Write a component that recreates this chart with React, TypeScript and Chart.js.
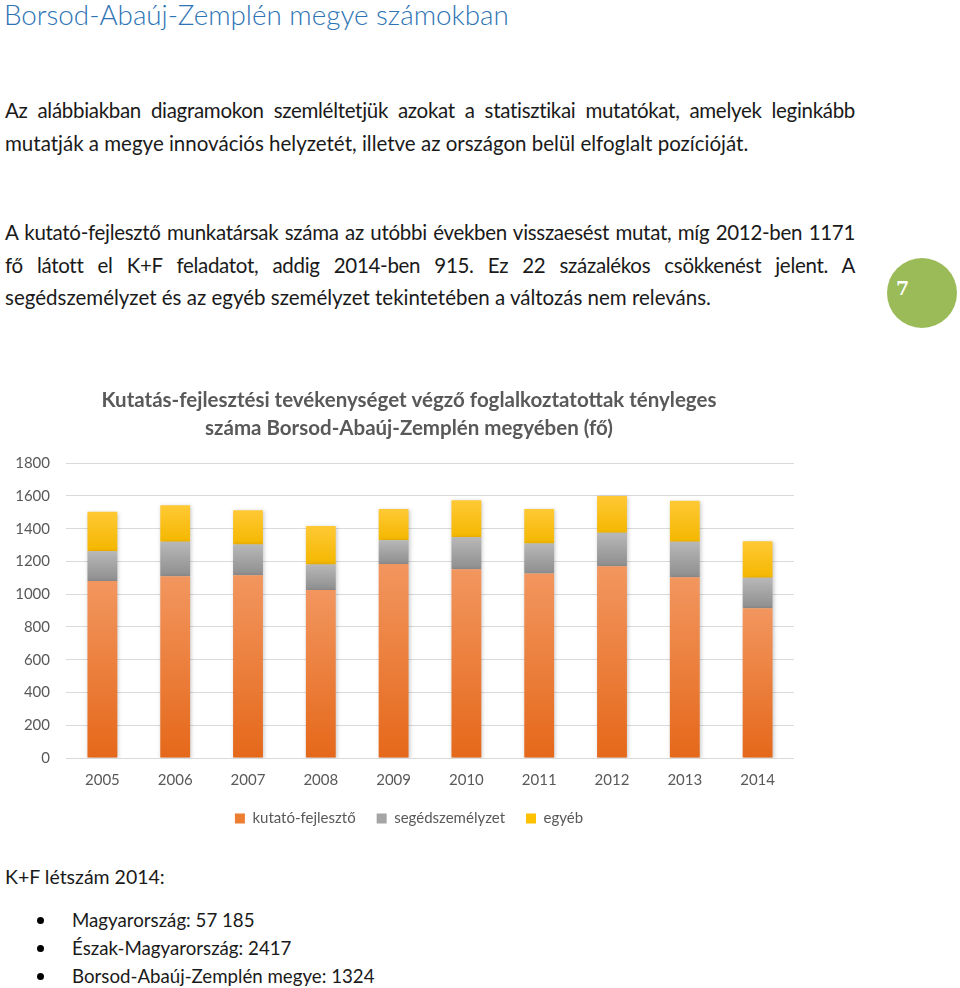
import React, { useEffect, useRef } from "react";
import { Chart, registerables } from "chart.js";

Chart.register(...registerables);

const years = ["2005", "2006", "2007", "2008", "2009", "2010", "2011", "2012", "2013", "2014"];
const kutatoFejleszto = [1080, 1110, 1116, 1026, 1185, 1153, 1126, 1171, 1104, 915];
const segedszemelyzet = [183, 210, 188, 156, 145, 194, 184, 204, 216, 185];
const egyeb = [241, 223, 208, 234, 190, 226, 210, 225, 251, 224];
const seriesNames = ["kutató-fejlesztő", "segédszemélyzet", "egyéb"];
const yTicks = [0, 200, 400, 600, 800, 1000, 1200, 1400, 1600, 1800];

const solidColors = ["#ED7D31", "#A5A5A5", "#FFC000"];
const gradientStops: [string, string][] = [
  ["#F2965F", "#E5681A"],
  ["#B8B8B8", "#8E8E8E"],
  ["#FFC935", "#F4B700"],
];

const allSeries = [kutatoFejleszto, segedszemelyzet, egyeb];

function makeGradient(dsIndex: number) {
  return (ctx: any) => {
    const chart = ctx.chart;
    const y = chart.scales && chart.scales.y;
    if (!chart.chartArea || !y || ctx.type !== "data") return solidColors[dsIndex];
    const i = ctx.dataIndex;
    let start = 0;
    for (let d = 0; d < dsIndex; d++) start += allSeries[d][i];
    const end = start + allSeries[dsIndex][i];
    const y0 = y.getPixelForValue(start);
    const y1 = y.getPixelForValue(end);
    if (!isFinite(y0) || !isFinite(y1) || y0 === y1) return solidColors[dsIndex];
    const g = chart.ctx.createLinearGradient(0, y1, 0, y0);
    g.addColorStop(0, gradientStops[dsIndex][0]);
    g.addColorStop(1, gradientStops[dsIndex][1]);
    return g;
  };
}

const shadowPlugin = {
  id: "barShadow",
  beforeDatasetsDraw(chart: any) {
    const c = chart.ctx;
    c.save();
    c.shadowColor = "rgba(0,0,0,0.22)";
    c.shadowBlur = 4;
    c.shadowOffsetX = 1;
    c.shadowOffsetY = 1;
  },
  afterDatasetsDraw(chart: any) {
    chart.ctx.restore();
  },
};

const FONT = "Lato, 'Open Sans', sans-serif";

function BarChart() {
  const ref = useRef<HTMLCanvasElement | null>(null);
  useEffect(() => {
    if (!ref.current) return;
    const chart = new Chart(ref.current, {
      type: "bar",
      data: {
        labels: years,
        datasets: allSeries.map((data, k) => ({
          label: seriesNames[k],
          data,
          backgroundColor: makeGradient(k),
          borderWidth: 0,
          categoryPercentage: 1,
          barPercentage: 0.41,
          stack: "s",
          yAxisID: "y",
        })),
      },
      plugins: [shadowPlugin],
      options: {
        animation: false,
        responsive: false,
        maintainAspectRatio: false,
        layout: { padding: 0 },
        plugins: {
          title: {
            display: true,
            text: [
              "Kutatás-fejlesztési tevékenységet végző foglalkoztatottak tényleges",
              "száma Borsod-Abaúj-Zemplén megyében (fő)",
            ],
            color: "#595959",
            font: { family: FONT, size: 20.5, weight: "bold", lineHeight: 1.37 },
            padding: { top: 8, bottom: 21 },
          },
          legend: {
            position: "bottom",
            labels: {
              color: "#595959",
              font: { family: FONT, size: 15 },
              boxWidth: 10,
              boxHeight: 10,
              padding: 21,
              generateLabels: (ch: any) =>
                ch.data.datasets.map((ds: any, k: number) => ({
                  text: ds.label,
                  fillStyle: solidColors[k],
                  strokeStyle: solidColors[k],
                  lineWidth: 0,
                  hidden: false,
                  datasetIndex: k,
                  fontColor: "#595959",
                })),
            },
          },
          tooltip: { enabled: false },
        },
        scales: {
          y: {
            stacked: true,
            min: 0,
            max: 1800,
            afterBuildTicks: (s: any) => {
              s.ticks = yTicks.map((v) => ({ value: v }));
            },
            grid: { color: "#D9D9D9", drawTicks: false, lineWidth: 1 },
            border: { display: false },
            ticks: {
              color: "#595959",
              font: { family: FONT, size: 15 },
              padding: 16,
              callback: (v: any) => String(v),
            },
            afterFit: (s: any) => {
              s.width = 66;
            },
          },
          x: {
            stacked: true,
            grid: { display: false, drawTicks: false },
            border: { display: false },
            ticks: { color: "#595959", font: { family: FONT, size: 15 }, padding: 13 },
            afterFit: (s: any) => {
              s.height -= 12;
            },
          },
          yRight: {
            type: "linear",
            position: "right",
            display: true,
            grid: { display: false, drawTicks: false },
            border: { display: false },
            ticks: { display: false },
            afterFit: (s: any) => {
              s.width = 24;
            },
          },
        },
      } as any,
    });
    return () => chart.destroy();
  }, []);
  return (
    <canvas
      ref={ref}
      width={818}
      height={458}
      style={{ position: "absolute", left: 0, top: 378, width: 818, height: 458 }}
    />
  );
}

const bodyText: React.CSSProperties = {
  position: "absolute",
  left: 5,
  fontFamily: FONT,
  fontSize: 20.5,
  color: "#1a1a1a",
  whiteSpace: "nowrap",
  lineHeight: "24px",
};

function Line({ y, text, justify, size }: { y: number; text: string; justify?: boolean; size?: number }) {
  return (
    <div
      style={{
        ...bodyText,
        top: y - 12,
        fontSize: size || 20.5,
        width: justify ? 850 : undefined,
        letterSpacing: justify ? "-0.3px" : undefined,
        textAlign: justify ? "justify" : "left",
        textAlignLast: justify ? "justify" : "auto",
        whiteSpace: justify ? "normal" : "nowrap",
      } as React.CSSProperties}
    >
      {text}
    </div>
  );
}

const bullets = ["Magyarország: 57 185", "Észak-Magyarország: 2417", "Borsod-Abaúj-Zemplén megye: 1324"];
const bulletY = [920, 948, 976];

export default function App() {
  return (
    <div style={{ position: "absolute", left: 0, top: 0, width: 960, height: 988, background: "#fff", overflow: "hidden" }}>
      <div
        style={{
          position: "absolute",
          left: 4,
          top: -3,
          fontFamily: FONT,
          fontWeight: 300,
          fontSize: 27.8,
          color: "#2E74B5",
          whiteSpace: "nowrap",
          lineHeight: "36px",
        }}
      >
        Borsod-Abaúj-Zemplén megye számokban
      </div>
      <Line y={110} justify text="Az alábbiakban diagramokon szemléltetjük azokat a statisztikai mutatókat, amelyek leginkább" />
      <Line y={143} text="mutatják a megye innovációs helyzetét, illetve az országon belül elfoglalt pozícióját." />
      <Line y={232} justify text="A kutató-fejlesztő munkatársak száma az utóbbi években visszaesést mutat, míg 2012-ben 1171" />
      <Line y={265} justify text="fő látott el K+F feladatot, addig 2014-ben 915. Ez 22 százalékos csökkenést jelent. A" />
      <Line y={297} text="segédszemélyzet és az egyéb személyzet tekintetében a változás nem releváns." />
      <div
        style={{
          position: "absolute",
          left: 887,
          top: 258,
          width: 70,
          height: 70,
          borderRadius: "50%",
          background: "#9BBB59",
        }}
      >
        <span
          style={{
            position: "absolute",
            left: 9,
            top: 19,
            fontFamily: "'DejaVu Serif', 'Liberation Serif', serif",
            fontWeight: "bold",
            fontSize: 19,
            color: "#fff",
          }}
        >
          7
        </span>
      </div>
      <BarChart />
      <Line y={877} size={19.5} text="K+F létszám 2014:" />
      {bullets.map((b, i) => (
        <React.Fragment key={b}>
          <div
            style={{
              position: "absolute",
              left: 37,
              top: bulletY[i] - 3,
              width: 7,
              height: 7,
              borderRadius: "50%",
              background: "#000",
            }}
          />
          <div style={{ ...bodyText, fontSize: 18.7, left: 72, top: bulletY[i] - 12 }}>{b}</div>
        </React.Fragment>
      ))}
    </div>
  );
}
